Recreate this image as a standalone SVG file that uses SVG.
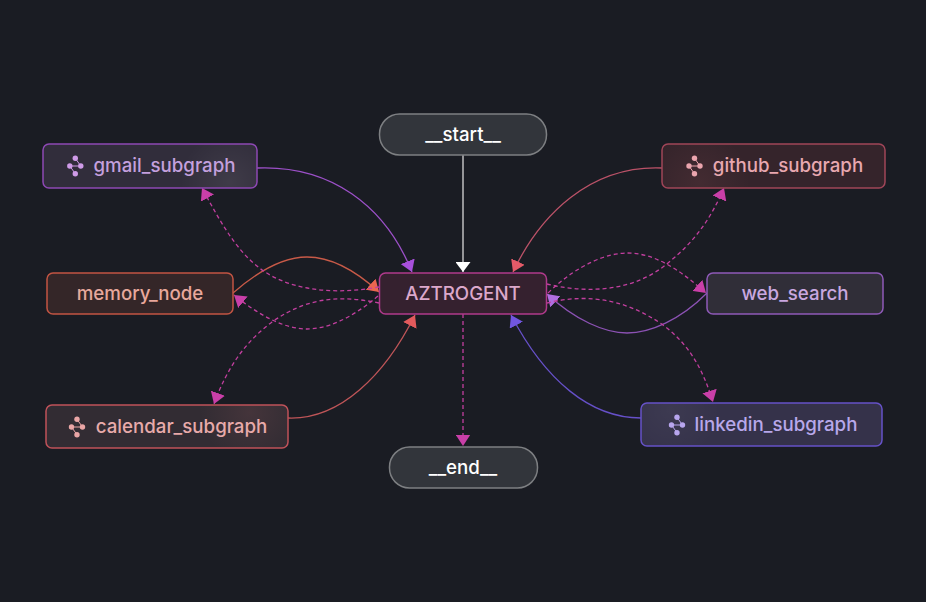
<svg xmlns="http://www.w3.org/2000/svg" width="926" height="602" viewBox="0 0 926 602">
<style>
.n{stroke-width:1.5}
.t{font-family:Inter,"Liberation Sans",sans-serif;font-size:18.7px;font-weight:500;text-anchor:middle}
.e{fill:none;stroke-width:1.3}
.d{stroke:#c23f9f;stroke-dasharray:4 3;marker-end:url(#mp)}
.i{stroke-width:1;fill:none}
</style>
<defs>
<marker id="mp" viewBox="0 0 10 13" refX="10" refY="6.500" markerWidth="11.500" markerHeight="15" markerUnits="userSpaceOnUse" orient="auto"><path d="M0 0L10 6.500L0 13Z" fill="#c93fa8"/></marker>
<marker id="mw" viewBox="0 0 10 15" refX="10" refY="7.500" markerWidth="10" markerHeight="15" markerUnits="userSpaceOnUse" orient="auto"><path d="M0 0L10 7.500L0 15Z" fill="#fff"/></marker>
<marker id="mv" viewBox="0 0 10 13" refX="10" refY="6.500" markerWidth="11.500" markerHeight="15" markerUnits="userSpaceOnUse" orient="auto"><path d="M0 0L10 6.500L0 13Z" fill="#a850dc"/></marker>
<marker id="mr" viewBox="0 0 10 13" refX="10" refY="6.500" markerWidth="11.500" markerHeight="15" markerUnits="userSpaceOnUse" orient="auto"><path d="M0 0L10 6.500L0 13Z" fill="#e35a68"/></marker>
<marker id="mo" viewBox="0 0 10 13" refX="10" refY="6.500" markerWidth="11.500" markerHeight="15" markerUnits="userSpaceOnUse" orient="auto"><path d="M0 0L10 6.500L0 13Z" fill="#ea6650"/></marker>
<marker id="mc" viewBox="0 0 10 13" refX="10" refY="6.500" markerWidth="11.500" markerHeight="15" markerUnits="userSpaceOnUse" orient="auto"><path d="M0 0L10 6.500L0 13Z" fill="#e25a5c"/></marker>
<marker id="mb" viewBox="0 0 10 13" refX="10" refY="6.500" markerWidth="11.500" markerHeight="15" markerUnits="userSpaceOnUse" orient="auto"><path d="M0 0L10 6.500L0 13Z" fill="#7156e0"/></marker>
<marker id="ml" viewBox="0 0 10 13" refX="10" refY="6.500" markerWidth="11.500" markerHeight="15" markerUnits="userSpaceOnUse" orient="auto"><path d="M0 0L10 6.500L0 13Z" fill="#b06ee0"/></marker>
<radialGradient id="g1" gradientUnits="userSpaceOnUse" cx="230" cy="182" r="50"><stop offset="0" stop-color="#fff" stop-opacity=".07"/><stop offset="1" stop-color="#fff" stop-opacity="0"/></radialGradient>
<radialGradient id="g2" gradientUnits="userSpaceOnUse" cx="700" cy="182" r="50"><stop offset="0" stop-color="#f88" stop-opacity=".07"/><stop offset="1" stop-color="#f88" stop-opacity="0"/></radialGradient>
<radialGradient id="g3" gradientUnits="userSpaceOnUse" cx="250" cy="412" r="50"><stop offset="0" stop-color="#f88" stop-opacity=".09"/><stop offset="1" stop-color="#f88" stop-opacity="0"/></radialGradient>
<radialGradient id="g4" gradientUnits="userSpaceOnUse" cx="670" cy="410" r="50"><stop offset="0" stop-color="#fff" stop-opacity=".04"/><stop offset="1" stop-color="#fff" stop-opacity="0"/></radialGradient>
<g id="ic">
<circle cx="0" cy="-7.700" r="2.700"/><circle cx="-5.500" cy="0" r="2.700"/><circle cx="5.500" cy="0" r="2.700"/><circle cx="0" cy="7.700" r="2.700"/>
</g>
</defs>
<rect width="926" height="602" fill="#1a1c23"/>
<g id="connectors">
<path class="e" stroke="#d8d8d8" marker-end="url(#mw)" d="M463 155V272"/>
<path class="e d" d="M463 314V446"/>
<path class="e" stroke="#9c50c8" marker-end="url(#mv)" d="M257 168C330 165 385 205 412 272"/>
<path class="e" stroke="#bb5268" marker-end="url(#mr)" d="M662 168C590 165 540 215 513 272"/>
<path class="e" stroke="#c85a48" marker-end="url(#mo)" d="M233 293C265 265 290 257 307 257C330 257 355 270 379 292"/>
<path class="e" stroke="#bf5558" marker-end="url(#mc)" d="M288 418C340 420 385 375 415 315"/>
<path class="e" stroke="#6650c8" marker-end="url(#mb)" d="M641 418C590 418 545 380 511 315"/>
<path class="e" stroke="#8c52b4" marker-end="url(#ml)" d="M707 293C680 320 650 333 627 333C605 333 575 320 547 294"/>
<path class="e d" d="M379 287C340 294 300 292 270 275C240 258 222 225 202 188"/>
<path class="e d" d="M378 296C350 320 325 329 307 329C285 329 260 316 234 295"/>
<path class="e d" d="M379 303C345 296 310 295 272 322C245 342 227 368 214 404"/>
<path class="e d" d="M547 284C580 292 630 295 668 263C695 241 710 220 724 188"/>
<path class="e d" d="M548 293C580 262 610 253 627 253C655 253 680 270 706 293"/>
<path class="e d" d="M547 303C580 295 620 295 663 325C690 345 703 370 713 402"/>
</g>
<g id="start"><rect class="n" x="379.500" y="114" width="167" height="41" rx="20" fill="#32353b" stroke="#7d7f82"/><text class="t" x="463" y="141" fill="#fff">__start__</text></g>
<g id="end"><rect class="n" x="389.500" y="447" width="148" height="41" rx="20" fill="#32353b" stroke="#7d7f82"/><text class="t" x="463" y="474" fill="#fff">__end__</text></g>
<g id="AZTROGENT"><rect class="n" x="379.500" y="273" width="167" height="41" rx="6" fill="#35212f" stroke="#b03a8c"/><text class="t" x="463" y="300" fill="#dca8cb">AZTROGENT</text></g>
<g id="gmail_subgraph"><rect class="n" x="43" y="144" width="214" height="44" rx="6" fill="#312d3b" stroke="#8d48b4"/><rect x="43.800" y="144.800" width="212.400" height="42.400" rx="5" fill="url(#g1)"/><use href="#ic" x="75.300" y="166" fill="#cf9be8"/><path class="i" stroke="#cf9be8" d="M69.800 166H80.800M75.300 158.300L80.800 166M75.300 173.700L69.800 166"/><text class="t" x="164.500" y="172" fill="#c4a0de">gmail_subgraph</text></g>
<g id="memory_node"><rect class="n" x="47" y="273" width="186" height="41" rx="6" fill="#342628" stroke="#c25443"/><text class="t" x="140" y="300" fill="#e8a89c">memory_node</text></g>
<g id="calendar_subgraph"><rect class="n" x="46" y="405" width="242" height="43" rx="6" fill="#322c33" stroke="#c0525a"/><rect x="46.800" y="405.800" width="240.400" height="41.400" rx="5" fill="url(#g3)"/><use href="#ic" x="77" y="427" fill="#eaa6a6"/><path class="i" stroke="#eaa6a6" d="M71.500 427H82.500M77 419.300L82.500 427M77 434.700L71.500 427"/><text class="t" x="181.500" y="433" fill="#e8aaaa">calendar_subgraph</text></g>
<g id="github_subgraph"><rect class="n" x="662" y="144" width="223" height="44" rx="6" fill="#35242b" stroke="#a04558"/><rect x="662.800" y="144.800" width="221.400" height="42.400" rx="5" fill="url(#g2)"/><use href="#ic" x="694.500" y="166" fill="#eba5ae"/><path class="i" stroke="#eba5ae" d="M689 166H700M694.500 158.300L700 166M694.500 173.700L689 166"/><text class="t" x="788" y="172" fill="#e8a8b0">github_subgraph</text></g>
<g id="web_search"><rect class="n" x="707" y="273" width="176" height="41" rx="6" fill="#302e38" stroke="#8e59b8"/><text class="t" x="795" y="300" fill="#c9a8e0">web_search</text></g>
<g id="linkedin_subgraph"><rect class="n" x="641" y="403" width="241" height="43" rx="6" fill="#35324a" stroke="#6652c8"/><rect x="641.800" y="403.800" width="239.400" height="41.400" rx="5" fill="url(#g4)"/><use href="#ic" x="677" y="425" fill="#b8a6ee"/><path class="i" stroke="#b8a6ee" d="M671.500 425H682.500M677 417.300L682.500 425M677 432.700L671.500 425"/><text class="t" x="776" y="431" fill="#b8a8ea">linkedin_subgraph</text></g>
</svg>
